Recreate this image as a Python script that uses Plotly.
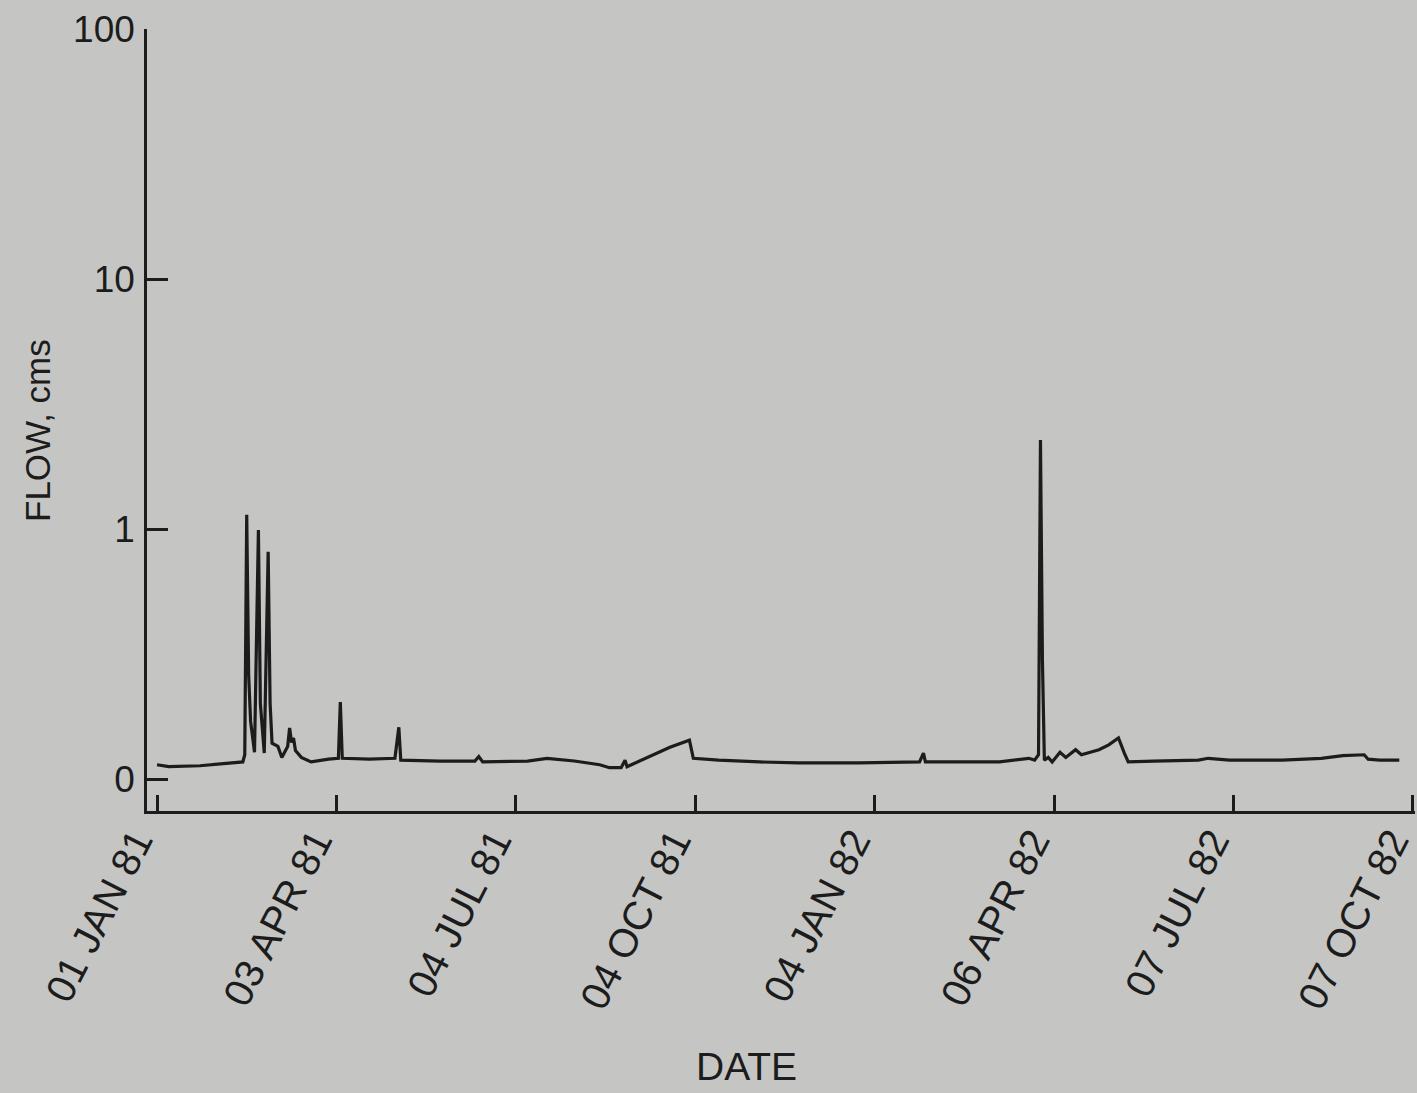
import plotly.graph_objects as go

# Daily streamflow record, Jan 1981 - Oct 1982 (cubic metres per second)
flow_dates = [
    "1981-01-01", "1981-01-07", "1981-01-23", "1981-02-08", "1981-02-14",
    "1981-02-15", "1981-02-16", "1981-02-17", "1981-02-18", "1981-02-20",
    "1981-02-22", "1981-02-23", "1981-02-25", "1981-02-27", "1981-02-28",
    "1981-03-01", "1981-03-04", "1981-03-06", "1981-03-09", "1981-03-10",
    "1981-03-11", "1981-03-12", "1981-03-13", "1981-03-16", "1981-03-21",
    "1981-03-30", "1981-04-04", "1981-04-05", "1981-04-06", "1981-04-20",
    "1981-05-03", "1981-05-05", "1981-05-06", "1981-05-26", "1981-06-13",
    "1981-06-15", "1981-06-17", "1981-07-10", "1981-07-20", "1981-08-03",
    "1981-08-16", "1981-08-21", "1981-08-27", "1981-08-29", "1981-08-30",
    "1981-09-21", "1981-09-29", "1981-10-01", "1981-10-03", "1981-10-16",
    "1981-11-06", "1981-11-26", "1981-12-27", "1982-01-16", "1982-01-27",
    "1982-01-29", "1982-01-30", "1982-03-09", "1982-03-24", "1982-03-27",
    "1982-03-29", "1982-03-30", "1982-03-31", "1982-04-01", "1982-04-03",
    "1982-04-05", "1982-04-09", "1982-04-12", "1982-04-17", "1982-04-20",
    "1982-04-29", "1982-05-04", "1982-05-09", "1982-05-12", "1982-05-14",
    "1982-05-27", "1982-06-19", "1982-06-24", "1982-07-05", "1982-08-01",
    "1982-08-21", "1982-09-01", "1982-09-12", "1982-09-14", "1982-09-20",
    "1982-09-30",
]
flow_cms = [
    0.114, 0.112, 0.113, 0.116, 0.117,
    0.125, 1.14, 0.26, 0.17, 0.128,
    0.99, 0.20, 0.127, 0.81, 0.20,
    0.139, 0.135, 0.122, 0.135, 0.160,
    0.140, 0.146, 0.130, 0.122, 0.117,
    0.120, 0.121, 0.203, 0.121, 0.120,
    0.121, 0.161, 0.119, 0.118, 0.118,
    0.123, 0.117, 0.118, 0.121, 0.118,
    0.114, 0.111, 0.111, 0.119, 0.112,
    0.134, 0.141, 0.143, 0.121, 0.119,
    0.117, 0.116, 0.116, 0.117, 0.117,
    0.127, 0.117, 0.117, 0.121, 0.119,
    0.125, 2.27, 0.30, 0.119, 0.122,
    0.117, 0.128, 0.122, 0.131, 0.125,
    0.131, 0.137, 0.146, 0.127, 0.117,
    0.118, 0.119, 0.121, 0.119, 0.119,
    0.121, 0.124, 0.125, 0.120, 0.119,
    0.119,
]

# Axis ticks
date_ticks = ["1981-01-01", "1981-04-03", "1981-07-04", "1981-10-04",
              "1982-01-04", "1982-04-06", "1982-07-07", "1982-10-07"]
date_labels = ["01 JAN 81", "03 APR 81", "04 JUL 81", "04 OCT 81",
               "04 JAN 82", "06 APR 82", "07 JUL 82", "07 OCT 82"]
flow_ticks = [0.1, 1, 10, 100]
flow_labels = ["0", "1", "10", "100"]

ink = "#1c1c1c"
paper = "#c5c6c3"
font_family = "Liberation Sans, Arial, Helvetica, sans-serif"

fig = go.Figure()
fig.add_trace(go.Scatter(
    x=flow_dates, y=flow_cms, mode="lines",
    line=dict(color=ink, width=3.2), hoverinfo="x+y",
))

fig.update_layout(
    width=1417, height=1093,
    margin=dict(l=147, r=2, t=29, b=282, autoexpand=False),
    paper_bgcolor=paper, plot_bgcolor=paper,
    showlegend=False,
    font=dict(family=font_family, size=37, color=ink),
    xaxis=dict(
        type="date", automargin=False,
        range=["1980-12-26 21:00", "1982-10-08 01:00"],
        tickmode="array", tickvals=date_ticks, ticktext=date_labels,
        tickangle=-63, tickfont=dict(size=40),
        ticks="inside", ticklen=16, tickwidth=2.5, tickcolor=ink,
        showline=True, linewidth=2.5, linecolor=ink,
        showgrid=False, zeroline=False,
        ticklabelstandoff=-12, ticklabelshift=-21,
        ticklabeloverflow="allow",
    ),
    yaxis=dict(
        type="log", automargin=False,
        range=[-1.128, 2],
        tickmode="array", tickvals=flow_ticks, ticktext=flow_labels,
        ticks="inside", ticklen=21, tickwidth=2.5, tickcolor=ink,
        showline=True, linewidth=2.5, linecolor=ink,
        showgrid=False, zeroline=False,
        ticklabelstandoff=2,
    ),
    annotations=[
        dict(text="DATE", xref="paper", yref="paper",
             x=(746 - 147) / 1268, y=(811 - 1066) / 782,
             xanchor="center", yanchor="middle", showarrow=False,
             font=dict(size=39, color=ink)),
        dict(text="FLOW, cms", xref="paper", yref="paper",
             x=(37 - 147) / 1268, y=(811 - 431) / 782,
             xanchor="center", yanchor="middle", showarrow=False,
             textangle=-90, font=dict(size=35, color=ink)),
    ],
)

fig.write_html("out.html")
